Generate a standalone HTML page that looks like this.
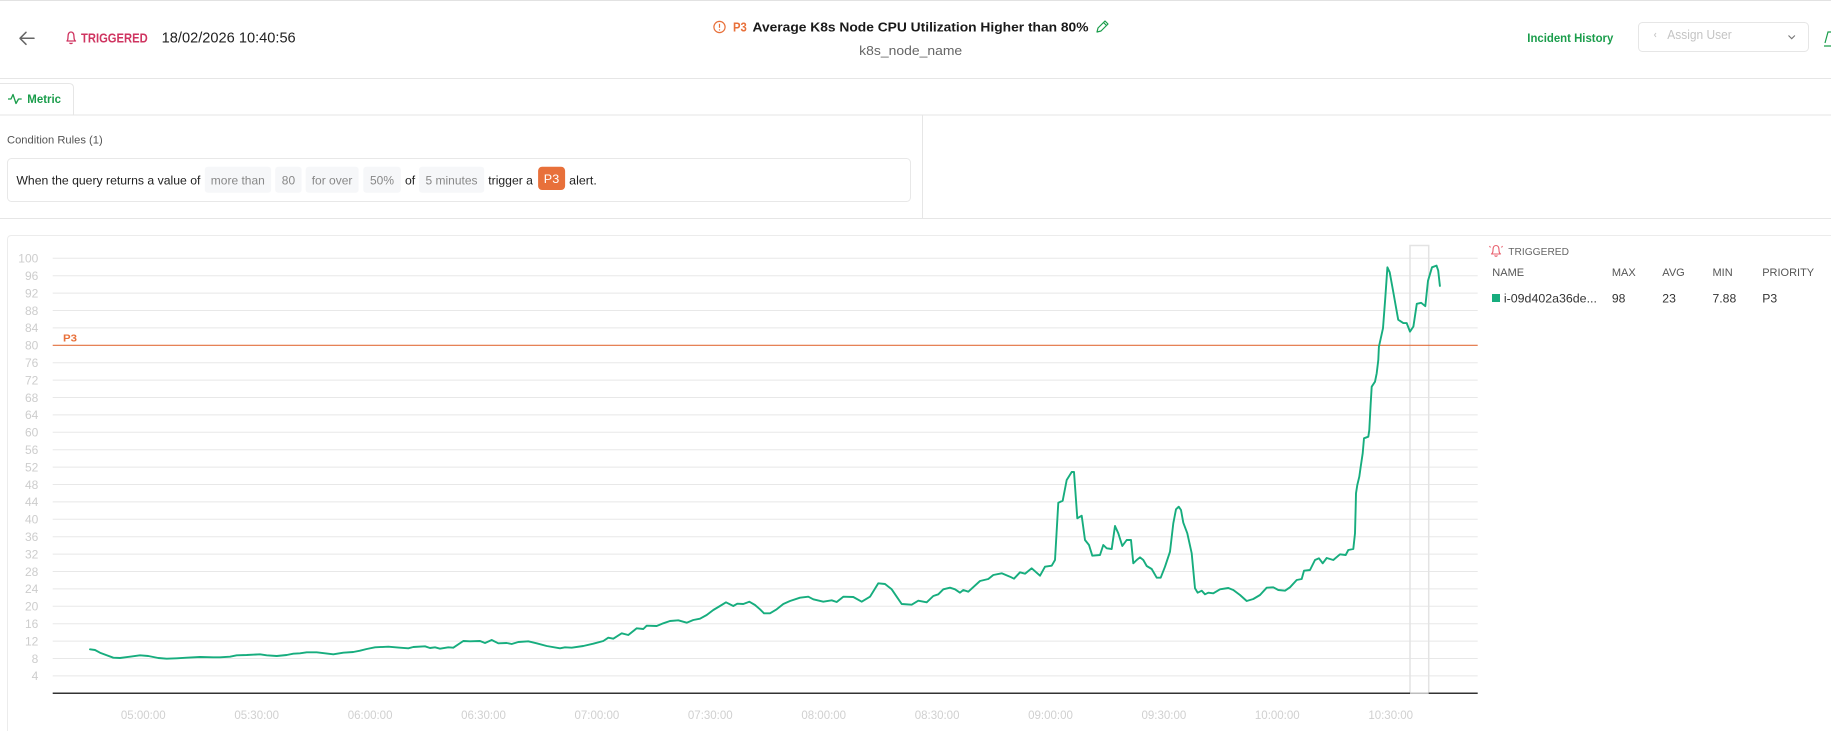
<!DOCTYPE html>
<html><head><meta charset="utf-8"><style>
html,body{margin:0;padding:0;background:#fff;width:1831px;height:731px;overflow:hidden}
svg{position:absolute;left:0;top:0;font-family:"Liberation Sans",sans-serif}
</style></head><body>
<svg width="1831" height="731" viewBox="0 0 1831 731" xmlns="http://www.w3.org/2000/svg">
<!-- page lines -->
<line x1="0" y1="0.5" x2="1831" y2="0.5" stroke="#e2e2e2" stroke-width="1"/>
<line x1="0" y1="78.5" x2="1831" y2="78.5" stroke="#e6e6e6" stroke-width="1"/>
<path d="M0 83.5 H69 Q73.5 83.5 73.5 88 V114.5" fill="none" stroke="#e6e6e6" stroke-width="1"/>
<line x1="0" y1="115" x2="1831" y2="115" stroke="#e6e6e6" stroke-width="1"/>
<line x1="922.5" y1="115" x2="922.5" y2="218" stroke="#e6e6e6" stroke-width="1"/>
<line x1="0" y1="218.5" x2="1831" y2="218.5" stroke="#e6e6e6" stroke-width="1"/>

<!-- header left -->
<path d="M34 38.3 H20 M26 32.3 L20 38.3 L26 44.3" fill="none" stroke="#666" stroke-width="1.5" stroke-linecap="round" stroke-linejoin="round"/>
<path d="M67 41 Q68 40 68 37 Q68 32 71 32 Q74 32 74 37 Q74 40 75.5 41 Z M69.5 42.8 Q71 44.5 72.5 42.8" fill="none" stroke="#cf3460" stroke-width="1.3" stroke-linejoin="round"/>
<text x="81" y="42.3" font-size="13" font-weight="bold" fill="#cf3460" textLength="66.7" lengthAdjust="spacingAndGlyphs">TRIGGERED</text>
<text x="161.7" y="42.3" font-size="14.5" fill="#222" textLength="134" lengthAdjust="spacingAndGlyphs">18/02/2026 10:40:56</text>

<!-- title -->
<circle cx="719.5" cy="27" r="5.6" fill="none" stroke="#e8703a" stroke-width="1.2"/>
<line x1="719.5" y1="23.8" x2="719.5" y2="27.8" stroke="#e8703a" stroke-width="1.2"/>
<circle cx="719.5" cy="29.9" r="0.7" fill="#e8703a"/>
<text x="733" y="31.7" font-size="12.5" font-weight="bold" fill="#e8703a" textLength="13.8" lengthAdjust="spacingAndGlyphs">P3</text>
<text x="752.5" y="31.7" font-size="13" font-weight="bold" fill="#1a1a1a" textLength="336" lengthAdjust="spacingAndGlyphs">Average K8s Node CPU Utilization Higher than 80%</text>
<path d="M1097 32 L1098 28 L1105 21 L1108 24 L1101 31 Z M1103.5 22.5 L1106.5 25.5" fill="none" stroke="#1a9d4b" stroke-width="1.2" stroke-linejoin="round"/>
<text x="859.2" y="55" font-size="13" fill="#666" textLength="103" lengthAdjust="spacingAndGlyphs">k8s_node_name</text>

<!-- header right -->
<text x="1527.3" y="42" font-size="12" font-weight="bold" fill="#1a9d4b" textLength="86" lengthAdjust="spacingAndGlyphs">Incident History</text>
<rect x="1638.5" y="22.5" width="170" height="29" rx="4" fill="#fff" stroke="#e6e6e6" stroke-width="1"/>
<path d="M1656 33 L1654.5 35 L1656 37" fill="none" stroke="#c8c8c8" stroke-width="1"/>
<text x="1667.3" y="39" font-size="12.5" fill="#c4c4c4" textLength="64.4" lengthAdjust="spacingAndGlyphs">Assign User</text>
<path d="M1788.5 35.5 L1791.7 38.7 L1794.9 35.5" fill="none" stroke="#777" stroke-width="1.1"/>
<path d="M1825 43 L1828 32 L1831 32 M1824 46 H1831" fill="none" stroke="#1a9d4b" stroke-width="1.2"/>

<!-- metric tab -->
<polyline points="8,99 11,99 13,94.5 16,103.5 18.5,99 21.7,99" fill="none" stroke="#1a9d4b" stroke-width="1.3" stroke-linejoin="round"/>
<text x="27.3" y="103" font-size="11.5" font-weight="bold" fill="#1a9d4b" textLength="33.7" lengthAdjust="spacingAndGlyphs">Metric</text>

<!-- condition rules -->
<text x="7" y="143.3" font-size="11.2" fill="#555" textLength="95.7" lengthAdjust="spacingAndGlyphs">Condition Rules (1)</text>
<rect x="7.5" y="158.5" width="903" height="43" rx="4" fill="#fff" stroke="#e8e8e8" stroke-width="1"/>
<text x="16.4" y="184.5" font-size="12.2" fill="#222" textLength="184" lengthAdjust="spacingAndGlyphs">When the query returns a value of</text>
<rect x="204.8" y="166.7" width="66.3" height="26" rx="3" fill="#f6f7f9"/>
<text x="210.8" y="184.5" font-size="12" fill="#888" textLength="54" lengthAdjust="spacingAndGlyphs">more than</text>
<rect x="275.2" y="166.7" width="26.4" height="26" rx="3" fill="#f6f7f9"/>
<text x="281.8" y="184.5" font-size="12" fill="#888" textLength="13.3" lengthAdjust="spacingAndGlyphs">80</text>
<rect x="305.7" y="166.7" width="52.9" height="26" rx="3" fill="#f6f7f9"/>
<text x="311.7" y="184.5" font-size="12" fill="#888" textLength="40.7" lengthAdjust="spacingAndGlyphs">for over</text>
<rect x="363.3" y="166.7" width="37.5" height="26" rx="3" fill="#f6f7f9"/>
<text x="370" y="184.5" font-size="12" fill="#888" textLength="24" lengthAdjust="spacingAndGlyphs">50%</text>
<text x="405" y="184.5" font-size="12.2" fill="#222" textLength="10.2" lengthAdjust="spacingAndGlyphs">of</text>
<rect x="419" y="166.7" width="65.2" height="26" rx="3" fill="#f6f7f9"/>
<text x="425.5" y="184.5" font-size="12" fill="#888" textLength="52" lengthAdjust="spacingAndGlyphs">5 minutes</text>
<text x="488.3" y="184.5" font-size="12.2" fill="#222" textLength="44.6" lengthAdjust="spacingAndGlyphs">trigger a</text>
<rect x="538.1" y="166.7" width="27" height="23.3" rx="4" fill="#e8703a"/>
<text x="543.8" y="183" font-size="12" fill="#fff" textLength="15.4" lengthAdjust="spacingAndGlyphs">P3</text>
<text x="569.2" y="184.5" font-size="12.2" fill="#222" textLength="27.6" lengthAdjust="spacingAndGlyphs">alert.</text>

<!-- chart panel (open at bottom, clipped to frame) -->
<path d="M7.5 731 V239.5 Q7.5 235.5 11.5 235.5 H1831" fill="none" stroke="#ececec" stroke-width="1"/>

<!-- gridlines -->
<g stroke="#e8e8e8" stroke-width="1">
<line x1="52.7" y1="258.3" x2="1477.7" y2="258.3"/>
<line x1="52.7" y1="275.7" x2="1477.7" y2="275.7"/>
<line x1="52.7" y1="293.1" x2="1477.7" y2="293.1"/>
<line x1="52.7" y1="310.5" x2="1477.7" y2="310.5"/>
<line x1="52.7" y1="327.9" x2="1477.7" y2="327.9"/>
<line x1="52.7" y1="362.7" x2="1477.7" y2="362.7"/>
<line x1="52.7" y1="380.1" x2="1477.7" y2="380.1"/>
<line x1="52.7" y1="397.5" x2="1477.7" y2="397.5"/>
<line x1="52.7" y1="414.9" x2="1477.7" y2="414.9"/>
<line x1="52.7" y1="432.3" x2="1477.7" y2="432.3"/>
<line x1="52.7" y1="449.7" x2="1477.7" y2="449.7"/>
<line x1="52.7" y1="467.1" x2="1477.7" y2="467.1"/>
<line x1="52.7" y1="484.5" x2="1477.7" y2="484.5"/>
<line x1="52.7" y1="501.9" x2="1477.7" y2="501.9"/>
<line x1="52.7" y1="519.3" x2="1477.7" y2="519.3"/>
<line x1="52.7" y1="536.7" x2="1477.7" y2="536.7"/>
<line x1="52.7" y1="554.1" x2="1477.7" y2="554.1"/>
<line x1="52.7" y1="571.5" x2="1477.7" y2="571.5"/>
<line x1="52.7" y1="588.9" x2="1477.7" y2="588.9"/>
<line x1="52.7" y1="606.3" x2="1477.7" y2="606.3"/>
<line x1="52.7" y1="623.7" x2="1477.7" y2="623.7"/>
<line x1="52.7" y1="641.1" x2="1477.7" y2="641.1"/>
<line x1="52.7" y1="658.5" x2="1477.7" y2="658.5"/>
<line x1="52.7" y1="675.9" x2="1477.7" y2="675.9"/>
</g>

<!-- y labels -->
<g font-size="12" fill="#cdcdcd" text-anchor="end">
<text x="38.3" y="262.6">100</text>
<text x="38.3" y="280">96</text>
<text x="38.3" y="297.4">92</text>
<text x="38.3" y="314.8">88</text>
<text x="38.3" y="332.2">84</text>
<text x="38.3" y="349.6">80</text>
<text x="38.3" y="367">76</text>
<text x="38.3" y="384.4">72</text>
<text x="38.3" y="401.8">68</text>
<text x="38.3" y="419.2">64</text>
<text x="38.3" y="436.6">60</text>
<text x="38.3" y="454">56</text>
<text x="38.3" y="471.4">52</text>
<text x="38.3" y="488.8">48</text>
<text x="38.3" y="506.2">44</text>
<text x="38.3" y="523.6">40</text>
<text x="38.3" y="541">36</text>
<text x="38.3" y="558.4">32</text>
<text x="38.3" y="575.8">28</text>
<text x="38.3" y="593.2">24</text>
<text x="38.3" y="610.6">20</text>
<text x="38.3" y="628">16</text>
<text x="38.3" y="645.4">12</text>
<text x="38.3" y="662.8">8</text>
<text x="38.3" y="680.2">4</text>
</g>

<!-- x labels -->
<g font-size="11.5" fill="#d0d0d0" text-anchor="middle">
<text x="143.3" y="719">05:00:00</text>
<text x="256.7" y="719">05:30:00</text>
<text x="370.1" y="719">06:00:00</text>
<text x="483.5" y="719">06:30:00</text>
<text x="596.9" y="719">07:00:00</text>
<text x="710.3" y="719">07:30:00</text>
<text x="823.7" y="719">08:00:00</text>
<text x="937.1" y="719">08:30:00</text>
<text x="1050.5" y="719">09:00:00</text>
<text x="1163.9" y="719">09:30:00</text>
<text x="1277.3" y="719">10:00:00</text>
<text x="1390.7" y="719">10:30:00</text>
</g>

<!-- highlight rect -->
<rect x="1410" y="245.5" width="18.7" height="447.8" fill="none" stroke="#e3e3e3" stroke-width="1.5"/>

<!-- baseline -->
<line x1="52.7" y1="693.3" x2="1477.7" y2="693.3" stroke="#333" stroke-width="1.5"/>
<line x1="1410" y1="693.3" x2="1428.7" y2="693.3" stroke="#bdbdbd" stroke-width="1.5"/>

<!-- threshold -->
<line x1="52.7" y1="345.3" x2="1477.7" y2="345.3" stroke="#e2703e" stroke-width="1.2"/>
<text x="63" y="341.7" font-size="10.5" font-weight="bold" fill="#e8703a" textLength="14" lengthAdjust="spacingAndGlyphs">P3</text>

<!-- series -->
<polyline fill="none" stroke="#17ad7e" stroke-width="1.9" stroke-linejoin="round" stroke-linecap="round" points="90,649.3 95,650 100,652.7 106.7,655.3 113.3,657.7 120,658 130,656.7 140,655.3 148.3,656 158.3,658 166.7,658.7 176.7,658.3 186.7,657.7 200,657 213.3,657.3 220,657.3 230,656.7 236.7,655.3 246.7,655 260,654.3 266.7,655.3 276.7,656 286.7,655 293.3,653.7 300,653.3 306.7,652.3 316.7,652.3 325,653.3 333.3,654.3 343.3,652.7 353.3,652 360,650.7 366.7,649 375,647.3 388.3,646.7 400,647.7 408.3,648.3 413.3,647 425,646.3 430,648 435,647.3 440,648.7 448.3,647.3 453.3,647.7 463.3,641 470,641.3 480,641 485,643 491.7,640 498.3,643.3 506.7,643 511.7,644 518.3,642 528.3,641.3 536.7,643.3 546.7,646 560,648.3 565,647.3 571.7,647.7 583.3,646 593.3,643.7 603.3,641 608.3,637.7 613.3,638.7 621.7,633.3 628.3,635 636.7,628.3 643.3,629 646.7,625.7 656.7,626 663.3,623.3 670,621 678.3,620.3 686.7,622.7 693.3,620 700,618.7 706.7,615 713.3,610 720,606 726,602.3 733.3,606 737.3,603.7 743.3,604 749.3,601.7 755,605 760,609.3 764,613.3 770,613.3 776.7,609.3 783.3,604 790,601 800,597.7 808.3,596.7 813.3,599.3 823.3,601.7 831.7,600.3 836.7,602 843.3,596.7 853.3,597 861.7,601.7 870,596.7 878.3,583.3 885,584 891.7,589.3 896.7,596.7 901.7,604 911.7,604.7 918.3,600.7 926.7,602.3 933.3,596 938.3,594.3 943.3,589.3 950,587.7 955,589.3 960,592.7 963.3,590 968.3,591.7 980,581 988.3,579 993.3,575 1001.7,573.3 1010,576.7 1014,578.7 1020,572.3 1025,573.7 1031.7,568.3 1040,575.7 1045,566.7 1051.7,565.7 1055,560 1058.3,502.7 1062.7,500.7 1066.7,480 1071.7,472 1074,472 1077.3,518.3 1081.7,515.7 1085,540 1089,545 1092.3,555.7 1100,555 1103.3,545 1106.7,548.3 1111.7,549 1115,526 1118.3,533.3 1122.3,546 1126.7,540 1131,540 1133.3,563.3 1136.7,560 1140,557.3 1143.3,560 1146.7,566 1151.7,569 1156.7,577.7 1160.7,577.7 1165,566.7 1170,551.7 1173.3,523.3 1176,509.3 1178.7,506.7 1181,510 1183.3,522.7 1187.3,533.3 1191.7,553.3 1195,588.3 1197.7,592.7 1201.7,590.7 1205,594.3 1208.3,592.7 1213.3,593.3 1220,589.3 1228.3,588 1233.3,590 1240,595 1246.7,601 1253.3,599 1260,595 1266.7,587.7 1273.3,587.3 1278.3,590 1285,590.7 1290,587.3 1296.7,580 1301.7,579 1304,570.7 1310,570 1315,560 1319,558.3 1322.7,563.3 1326.7,558 1333.3,560 1340,554.3 1345.7,555 1348.3,550 1353.3,549 1355,533.3 1355.7,506.7 1356,493.3 1357.3,485 1359.3,476.7 1360.7,466.7 1362.7,453.3 1364,438.3 1368.3,436.7 1369.3,430 1370.7,403.3 1371.7,386.7 1375,381.7 1376.7,373.3 1378.3,360 1378.9,346.8 1383,328.2 1385.3,297.7 1387.4,267.3 1389.7,272.3 1393.1,291 1398.2,319.7 1403.3,323.1 1406.7,323.1 1410,331.6 1413.4,326.5 1416.8,303.8 1421.2,302.8 1425.3,306.2 1428,280.8 1432,267.3 1436.5,265.6 1438.2,270.6 1439.9,285.9"/>

<!-- legend -->
<path d="M1491.5 254 Q1493 253 1493 250 Q1493 245.5 1496 245.5 Q1499 245.5 1499 250 Q1499 253 1500.5 254 Z M1494.5 255.5 Q1496 257 1497.5 255.5 M1490.5 247.5 L1489.5 246 M1501.5 247.5 L1502.5 246" fill="none" stroke="#e8606e" stroke-width="1.1" stroke-linejoin="round"/>
<text x="1508.3" y="255" font-size="10.5" fill="#666" textLength="60.7" lengthAdjust="spacingAndGlyphs">TRIGGERED</text>
<g font-size="11" fill="#555">
<text x="1492.3" y="276" textLength="31.8" lengthAdjust="spacingAndGlyphs">NAME</text>
<text x="1611.9" y="276">MAX</text>
<text x="1662.3" y="276">AVG</text>
<text x="1712.5" y="276">MIN</text>
<text x="1762.2" y="276">PRIORITY</text>
</g>
<rect x="1492" y="294" width="8" height="8" fill="#17ad7e"/>
<g font-size="12.2" fill="#333">
<text x="1503.9" y="302.3" textLength="93" lengthAdjust="spacingAndGlyphs">i-09d402a36de...</text>
<text x="1611.9" y="302.3">98</text>
<text x="1662.3" y="302.3">23</text>
<text x="1712.5" y="302.3">7.88</text>
<text x="1762.2" y="302.3">P3</text>
</g>
</svg>
</body></html>
